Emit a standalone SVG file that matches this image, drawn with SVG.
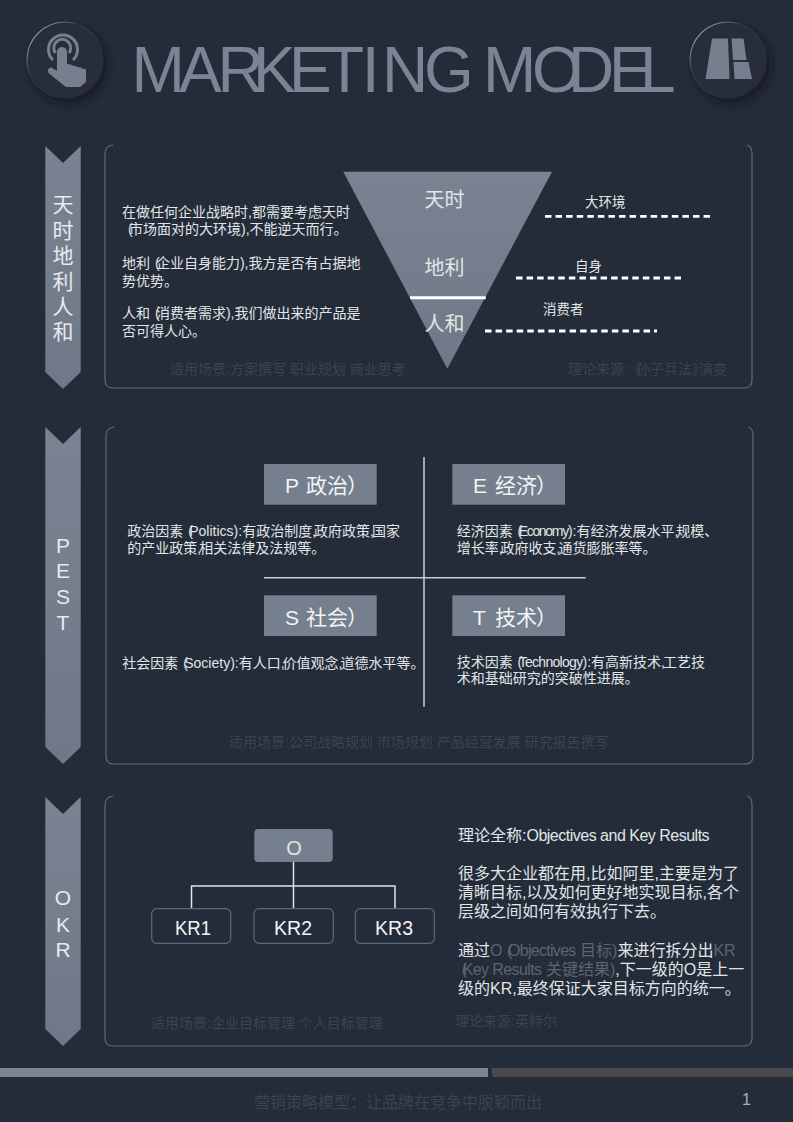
<svg xmlns="http://www.w3.org/2000/svg" width="793" height="1122" viewBox="0 0 793 1122">
<style>
text{font-family:"Liberation Sans","Noto Sans CJK SC",sans-serif;fill:#e2e5e8}
.b{font-size:14px}
.d{font-size:14px;fill:#3a4451}
.o{font-size:16px}
.m{fill:#5b6573}
.s{fill:#767f8e}
.p{fill:none;stroke:#5f6a78;stroke-width:1.2}
.ban{font-size:21px;text-anchor:middle;fill:#e8eaed}
.h{font-size:21px;fill:#f2f3f5}
.dash{stroke:#fff;stroke-width:2.800;stroke-dasharray:6.500 4.070;fill:none}
.lbl{font-size:13.500px}
.tri{font-size:20px}
.line{stroke:#c9ced4;stroke-width:1.500;fill:none}
.conn{stroke:#dfe3e7;stroke-width:1.500;fill:none}
.kr{fill:none;stroke:#5f6a78;stroke-width:1.200}
.kt{font-size:21px;fill:#f2f3f5}
.pb{letter-spacing:-3.600px}
</style>
<defs>
<linearGradient id="g" x1="0" y1="0" x2="0" y2="1"><stop offset="0" stop-color="#7a8392"/><stop offset="1" stop-color="#6f7886"/></linearGradient>
<filter id="sh" x="-30%" y="-30%" width="170%" height="170%"><feGaussianBlur stdDeviation="4"/></filter>
<linearGradient id="rim" x1="0" y1="0" x2="1" y2="1"><stop offset="0" stop-color="#d5d9de"/><stop offset="0.35" stop-color="#343b48"/><stop offset="1" stop-color="#232833"/></linearGradient>
</defs>
<rect width="793" height="1122" fill="#232c38"/>

<g id="title"><text x="131.600 179 217.600 253 289 325 361.700 382 424 483 532 568 609 640" y="92" font-size="64" style="fill:#7a8494">MARKETINGMODEL</text></g>

<g id="icon-left">
<circle cx="69" cy="65" r="38" fill="#14181f" opacity="0.85" filter="url(#sh)"/>
<circle cx="65" cy="60" r="38" fill="#272d3a" stroke="url(#rim)" stroke-width="1.200"/>
<path d="M53,60A14.500,14.500 0 1 1 73,60" fill="none" stroke="#767f8e" stroke-width="3"/>
<path d="M55.500,53A8.500,8.500 0 1 1 69,53" fill="none" stroke="#767f8e" stroke-width="3"/>
<path class="s" d="M57,52a5,5 0 0 1 10,0V64l4,.5 1,1 4,.5 1,1 4,.5 1,1 4,.8V82L80,87H66L48.500,73q-2,-5 3,-5.500L57,71Z"/>
</g>

<g id="icon-right">
<circle cx="732" cy="65" r="38" fill="#14181f" opacity="0.85" filter="url(#sh)"/>
<circle cx="728" cy="60" r="38" fill="#272d3a" stroke="url(#rim)" stroke-width="1.200"/>
<path class="s" d="M712,38.500H728L729.500,79H705.500ZM731.500,38.500H743.500L746.500,60H733ZM733.500,62H748.500L752,79H734.500Z"/>
</g>

<g id="banner-1">
<path fill="url(#g)" d="M45.300,146L63,163L80.700,146V372L63,389L45.300,372Z"/>
<text class="ban" x="63" y="212">天</text><text class="ban" x="63" y="238">时</text><text class="ban" x="63" y="263">地</text><text class="ban" x="63" y="289">利</text><text class="ban" x="63" y="314">人</text><text class="ban" x="63" y="339">和</text>
</g>
<g id="banner-2">
<path fill="url(#g)" d="M45.300,427L63,444L80.700,427V747L63,764L45.300,747Z"/>
<text class="ban" x="63" y="553">P</text><text class="ban" x="63" y="578">E</text><text class="ban" x="63" y="604">S</text><text class="ban" x="63" y="630">T</text>
</g>
<g id="banner-3">
<path fill="url(#g)" d="M45.300,797L63,814L80.700,797V1029L63,1046L45.300,1029Z"/>
<text class="ban" x="63" y="905">O</text><text class="ban" x="63" y="932">K</text><text class="ban" x="63" y="957">R</text>
</g>

<g id="panel-1">
<path class="p" d="M113,145Q105,146 105,154V380Q105,388 113,388H744Q752,388 752,380V154Q752,146 747,145"/>
<text class="b" x="122" y="216.500">在做任何企业战略时,都需要考虑天时</text>
<text class="b" x="128" y="233.500"><tspan class="pb">(</tspan>市场面对的大环境),不能逆天而行。</text>
<text class="b" x="122" y="268">地利 <tspan dx="1" class="pb">(</tspan>企业自身能力),我方是否有占据地</text>
<text class="b" x="122" y="286">势优势。</text>
<text class="b" x="122" y="318">人和 <tspan dx="1" class="pb">(</tspan>消费者需求),我们做出来的产品是</text>
<text class="b" x="122" y="335.500">否可得人心。</text>
<text class="d" x="170" y="374">适用场景:方案撰写 职业规划 商业思考</text>
<text class="d" x="568" y="374">理论来源:<tspan letter-spacing="-6px">《</tspan>孙子兵法<tspan letter-spacing="-7px">》</tspan>演变</text>
</g>

<g id="triangle">
<path fill="url(#g)" d="M343.300,171.700H552L447.300,368.700Z"/>
<line x1="410" y1="297.700" x2="485.700" y2="297.700" stroke="#fff" stroke-width="3"/>
<text class="tri" x="424.500" y="207">天时</text>
<text class="tri" x="424.500" y="275">地利</text>
<text class="tri" x="424.500" y="331">人和</text>
</g>

<g id="dashes">
<path class="dash" d="M545,216.300H710"/>
<path class="dash" d="M516,278H681"/>
<path class="dash" d="M485,331H657"/>
<text class="lbl" x="585" y="207">大环境</text>
<text class="lbl" x="575" y="271">自身</text>
<text class="lbl" x="543" y="314">消费者</text>
</g>

<g id="panel-2">
<path class="p" d="M114,427Q106,428 106,436V756Q106,764 114,764H745Q753,764 753,756V436Q753,428 748,427"/>
<path class="line" d="M424,457V706.700M264,577.700H585.700"/>
</g>
<g id="pest-p"><rect class="s" x="264" y="464" width="112.700" height="40.700"/><text class="h" y="493"><tspan x="285">P</tspan><tspan x="306">政治</tspan><tspan x="347">）</tspan></text></g>
<g id="pest-e"><rect class="s" x="452.300" y="464" width="112.700" height="40.700"/><text class="h" y="493"><tspan x="473">E</tspan><tspan x="495">经济</tspan><tspan x="536">）</tspan></text></g>
<g id="pest-s"><rect class="s" x="264" y="595.300" width="112.700" height="40.700"/><text class="h" y="624.500"><tspan x="285">S</tspan><tspan x="306">社会</tspan><tspan x="347">）</tspan></text></g>
<g id="pest-t"><rect class="s" x="452.300" y="595.300" width="112.700" height="40.700"/><text class="h" y="624.500"><tspan x="473">T</tspan><tspan x="495">技术</tspan><tspan x="536">）</tspan></text></g>
<g id="pest-text">
<text class="b" x="127.300" y="535.500">政治因素 <tspan dx="1" class="pb">(</tspan>Politics):有政治制度,<tspan dx="-2">政府政策,</tspan><tspan dx="-2">国家</tspan></text>
<text class="b" x="127.300" y="552.500">的产业政策,<tspan dx="-2">相关法律及法规等。</tspan></text>
<text class="b" x="456.700" y="535.500">经济因素 <tspan dx="1" class="pb">(</tspan><tspan letter-spacing="-1.300px">Economy</tspan>):有经济发展水平,<tspan dx="-2">规模、</tspan></text>
<text class="b" x="456.700" y="552.500">增长率,<tspan dx="-2">政府收支,</tspan><tspan dx="-2">通货膨胀率等。</tspan></text>
<text class="b" x="122.300" y="667.500">社会因素 <tspan dx="1" class="pb">(</tspan>Society):有人口,<tspan dx="-2">价值观念,</tspan><tspan dx="-2">道德水平等。</tspan></text>
<text class="b" x="456.700" y="666.500">技术因素 <tspan dx="1" class="pb">(</tspan><tspan letter-spacing="-0.700px">Technology</tspan>):有高新技术,<tspan dx="-2">工艺技</tspan></text>
<text class="b" x="456.700" y="683">术和基础研究的突破性进展。</text>
<text class="d" x="229" y="747">适用场景:公司战略规划 市场规划 产品经营发展 研究报告撰写</text>
</g>

<g id="panel-3">
<path class="p" d="M113,796Q105,797 105,805V1038Q105,1046 113,1046H744Q752,1046 752,1038V805Q752,797 747,796"/>
<text class="o" x="458" y="840.500">理论全称:<tspan letter-spacing="-0.500px">Objectives and Key Results</tspan></text>
<text class="o" x="458" y="878.500">很多大企业都在用,比如阿里,主要是为了</text>
<text class="o" x="458" y="897.500">清晰目标,以及如何更好地实现目标,各个</text>
<text class="o" x="458" y="917">层级之间如何有效执行下去。</text>
<text class="o" x="458" y="956">通过<tspan class="m">O </tspan><tspan class="m" letter-spacing="-4.300px">(</tspan><tspan class="m" letter-spacing="-0.700px">Objectives</tspan><tspan class="m"> 目标)</tspan>来进行拆分出<tspan class="m">KR</tspan></text>
<text class="o" x="461.700" y="975"><tspan class="m" letter-spacing="-4.300px">(</tspan><tspan class="m" letter-spacing="-0.600px">Key Results</tspan><tspan class="m"> 关键结果)</tspan>,下一级的O是上一</text>
<text class="o" x="458" y="994">级的KR,最终保证大家目标方向的统一。</text>
<text class="d" x="455" y="1026">理论来源:英特尔</text>
<text class="d" x="151" y="1028">适用场景:企业目标管理 个人目标管理</text>
</g>

<g id="connectors"><path class="conn" d="M293.500,862V909M191.500,909V886H395V909"/></g>
<g id="node-o"><rect class="s" x="254.300" y="829" width="78.400" height="33" rx="4"/><text x="294" y="855" font-size="20" text-anchor="middle">O</text></g>
<g id="node-kr1"><rect class="kr" x="151.700" y="908.700" width="79" height="34.600" rx="5"/><text class="kt" x="175" y="935" textLength="36" lengthAdjust="spacingAndGlyphs">KR1</text></g>
<g id="node-kr2"><rect class="kr" x="254" y="908.700" width="79.300" height="34.600" rx="5"/><text class="kt" x="274" y="935" textLength="38" lengthAdjust="spacingAndGlyphs">KR2</text></g>
<g id="node-kr3"><rect class="kr" x="355.300" y="908.700" width="79" height="34.600" rx="5"/><text class="kt" x="375" y="935" textLength="38" lengthAdjust="spacingAndGlyphs">KR3</text></g>

<g id="footer">
<rect x="0" y="1068" width="488" height="9" fill="#7a8494"/>
<path d="M491,1068H793V1077H493Z" fill="#4a4a4c"/>
<text x="254" y="1107.500" font-size="16" style="fill:#3a4451">营销策略模型：让品牌在竞争中脱颖而出</text>
<text x="742" y="1105" font-size="16" style="fill:#a8aeb6">1</text>
</g>
</svg>
